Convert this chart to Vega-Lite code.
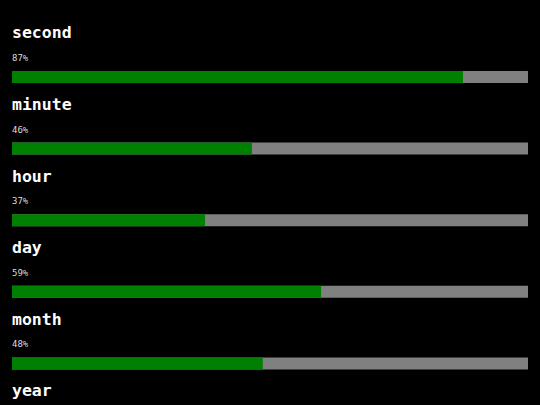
{
  "$schema": "https://vega.github.io/schema/vega-lite/v6.json",
  "background": "black",
  "padding": {"top": 12, "left": 12, "right": 12, "bottom": 0},
  "autosize": {"type": "none"},
  "width": 516,
  "height": 429.6,
  "config": {"view": {"stroke": null}},
  "data": {
    "values": [
      {"unit": "second", "value": 0.874, "label": "87%"},
      {"unit": "minute", "value": 0.465, "label": "46%"},
      {"unit": "hour", "value": 0.374, "label": "37%"},
      {"unit": "day", "value": 0.599, "label": "59%"},
      {"unit": "month", "value": 0.486, "label": "48%"},
      {"unit": "year", "value": 0.3, "label": "30%"}
    ]
  },
  "layer": [
    {
      "mark": {"type": "bar", "height": 12, "yOffset": 29.2, "color": "#808080"},
      "encoding": {
        "y": {"field": "unit", "type": "nominal", "sort": null, "axis": null, "scale": {"type": "band", "paddingInner": 0, "paddingOuter": 0}},
        "x": {"datum": 1, "type": "quantitative", "scale": {"domain": [0, 1]}, "axis": null}
      }
    },
    {
      "mark": {"type": "bar", "height": 12, "yOffset": 29.2, "color": "#008000"},
      "encoding": {
        "y": {"field": "unit", "type": "nominal", "sort": null, "axis": null},
        "x": {"field": "value", "type": "quantitative"}
      }
    },
    {
      "mark": {"type": "text", "align": "left", "baseline": "alphabetic", "dy": -9.4, "font": "DejaVu Sans Mono", "fontWeight": "bold", "fontSize": 16.5, "color": "white"},
      "encoding": {
        "y": {"field": "unit", "type": "nominal", "sort": null, "axis": null},
        "x": {"datum": 0, "type": "quantitative"},
        "text": {"field": "unit"}
      }
    },
    {
      "mark": {"type": "text", "align": "left", "baseline": "alphabetic", "dy": 13.2, "font": "DejaVu Sans Mono", "fontSize": 9, "color": "#dddddd"},
      "encoding": {
        "y": {"field": "unit", "type": "nominal", "sort": null, "axis": null},
        "x": {"datum": 0, "type": "quantitative"},
        "text": {"field": "label"}
      }
    }
  ]
}
